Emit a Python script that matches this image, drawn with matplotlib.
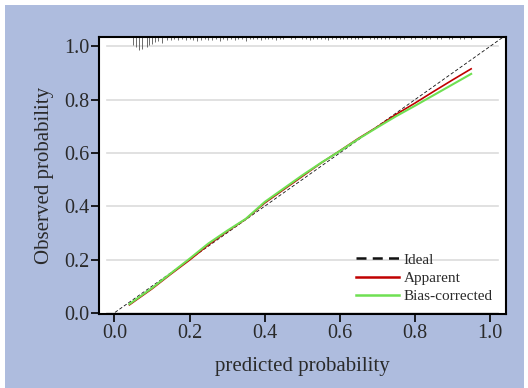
"""Calibration curve: apparent vs bias-corrected."""

import matplotlib

matplotlib.use("Agg")
import matplotlib.pyplot as plt
from matplotlib.patches import Rectangle

# curve values
pred_x = [0.04, 0.10, 0.15, 0.20, 0.25, 0.30, 0.35, 0.40, 0.45, 0.50,
          0.55, 0.60, 0.65, 0.70, 0.75, 0.80, 0.85, 0.90, 0.95]
apparent_y = [0.030, 0.090, 0.145, 0.198, 0.255, 0.305, 0.352, 0.412, 0.462, 0.512,
              0.562, 0.608, 0.655, 0.698, 0.745, 0.787, 0.831, 0.874, 0.916]
bias_y = [0.033, 0.093, 0.148, 0.203, 0.260, 0.308, 0.353, 0.416, 0.466, 0.516,
          0.563, 0.607, 0.653, 0.696, 0.738, 0.777, 0.817, 0.857, 0.897]

ideal_x = [-0.01, 1.045]

# distribution of predictions (spike marks from the top edge)
rug_x = [0.050, 0.058, 0.066, 0.074, 0.087, 0.092, 0.100, 0.108, 0.116, 0.127,
         0.14, 0.15, 0.16, 0.17, 0.18, 0.19, 0.20, 0.21, 0.22, 0.23, 0.24, 0.25,
         0.26, 0.27, 0.28, 0.29, 0.30, 0.31, 0.32, 0.33, 0.34, 0.35, 0.36, 0.37,
         0.38, 0.39, 0.40, 0.41, 0.42, 0.43, 0.44, 0.45, 0.47, 0.48, 0.50, 0.51,
         0.52, 0.53, 0.54, 0.55, 0.56, 0.57, 0.58, 0.59, 0.60, 0.61, 0.62, 0.63,
         0.64, 0.65, 0.66, 0.68, 0.69, 0.70, 0.71, 0.72, 0.73, 0.75, 0.76, 0.77,
         0.79, 0.80, 0.82, 0.83, 0.84, 0.86, 0.87, 0.89, 0.90, 0.92, 0.93, 0.95]
rug_len = [0.030, 0.037, 0.049, 0.046, 0.037, 0.030, 0.026, 0.019, 0.015, 0.022,
           0.011, 0.011, 0.008, 0.011, 0.008, 0.011, 0.008, 0.011, 0.015, 0.011,
           0.008, 0.011, 0.011, 0.008, 0.015, 0.008, 0.011, 0.008, 0.011, 0.008,
           0.008, 0.015, 0.008, 0.008, 0.008, 0.011, 0.008, 0.008, 0.008, 0.011,
           0.008, 0.008, 0.008, 0.008, 0.008, 0.008, 0.011, 0.008, 0.008, 0.008,
           0.008, 0.011, 0.008, 0.008, 0.008, 0.008, 0.008, 0.008, 0.008, 0.008,
           0.008, 0.008, 0.008, 0.008, 0.008, 0.008, 0.008, 0.008, 0.008, 0.008,
           0.008, 0.008, 0.008, 0.008, 0.008, 0.008, 0.008, 0.008, 0.008, 0.008,
           0.008, 0.008]

ticks = [0.0, 0.2, 0.4, 0.6, 0.8, 1.0]

BG = "#aebcde"
TXT = "#2a2a2a"

plt.rcParams["font.family"] = ["Liberation Serif", "DejaVu Serif"]

fig = plt.figure(figsize=(5.28, 3.88), dpi=100)
fig.patch.set_facecolor("white")
fig.add_artist(Rectangle((5 / 528, 0), 519 / 528, 383 / 388,
                         transform=fig.transFigure, facecolor=BG,
                         edgecolor="none", zorder=0))

ax = fig.add_axes([0.1875, 0.191, 0.771, 0.714])
ax.set_facecolor("white")
ax.set_xlim(-0.041, 1.043)
ax.set_ylim(-0.004, 1.036)

for t in ticks:
    ax.axhline(t, xmin=0.02, xmax=0.98, color="#dcdcdc", linewidth=1.2, zorder=1)

top = ax.get_ylim()[1]
ax.vlines(rug_x, [top - h for h in rug_len], top, color="#555555", linewidth=0.6, zorder=2)

ax.plot(ideal_x, ideal_x, color="#111111", linestyle=(0, (4, 2.5)), linewidth=0.6,
        label="Ideal", zorder=3)
ax.plot(pred_x, apparent_y, color="#c00000", linewidth=1.2, label="Apparent", zorder=4)
ax.plot(pred_x, bias_y, color="#6fe052", linewidth=1.5, label="Bias-corrected", zorder=5)

ax.set_xticks(ticks)
ax.set_yticks(ticks)
ax.set_xticklabels([f"{t:.1f}" for t in ticks])
ax.set_yticklabels([f"{t:.1f}" for t in ticks])
ax.tick_params(direction="out", length=5.5, width=1.2, colors="black",
               labelcolor=TXT, labelsize=14.5, pad=1.5)
for side in ax.spines.values():
    side.set_linewidth(1.5)
    side.set_color("black")

ax.set_xlabel("predicted probability", fontsize=15, color=TXT, labelpad=10)
ax.set_ylabel("Observed probability", fontsize=15, color=TXT, labelpad=7)

leg = ax.legend(loc="lower right", bbox_to_anchor=(0.99, 0.005), frameon=False,
                fontsize=11, handlelength=2.8, handletextpad=0.3, labelspacing=0.3,
                borderaxespad=0.2)
for line in leg.get_lines():
    line.set_linewidth(1.8)
for text in leg.get_texts():
    text.set_color(TXT)

fig.savefig("out.png", dpi=100, facecolor=fig.get_facecolor())
